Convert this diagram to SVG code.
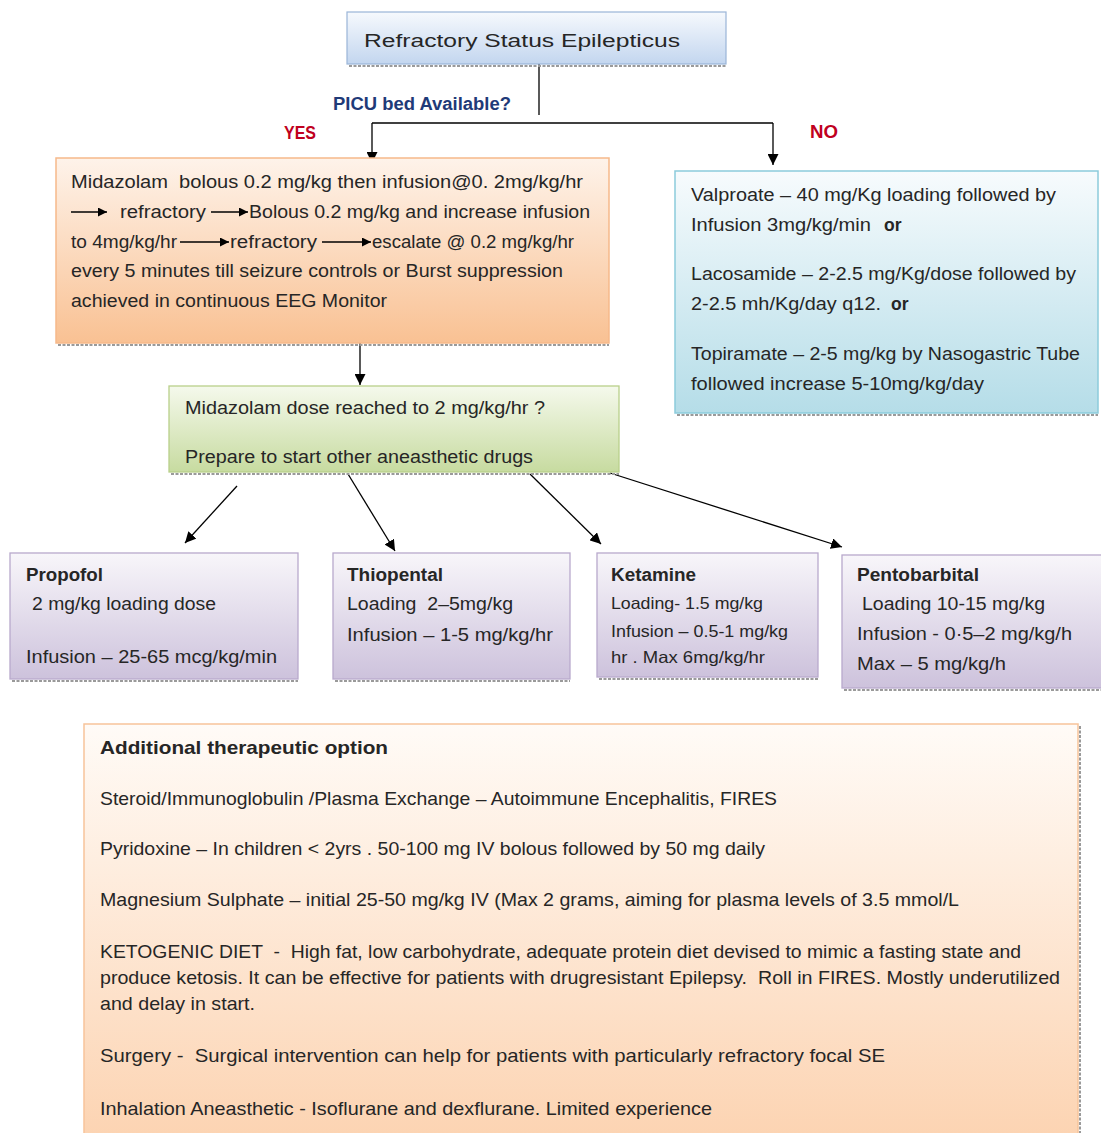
<svg xmlns="http://www.w3.org/2000/svg" width="1101" height="1133" viewBox="0 0 1101 1133">
<style>
text{font-family:"Liberation Sans",Arial,sans-serif;fill:#262626;font-size:17.5px;white-space:pre}
.b{font-weight:bold}
.bt{font-size:16.5px}
.big{font-size:18.5px}
.con{stroke:#000;stroke-width:1.3;fill:none}
.sh{stroke:#9a9a9a;stroke-width:2;stroke-dasharray:3 1.5;fill:none}
</style>
<defs>
<linearGradient id="gBlue" x1="0" y1="0" x2="0" y2="1"><stop offset="0" stop-color="#f6f9fd"/><stop offset="1" stop-color="#c3d6ef"/></linearGradient>
<linearGradient id="gOr" x1="0" y1="0" x2="0" y2="1"><stop offset="0" stop-color="#fef3ea"/><stop offset="1" stop-color="#f9c193"/></linearGradient>
<linearGradient id="gGr" x1="0" y1="0" x2="0" y2="1"><stop offset="0" stop-color="#f5f9ec"/><stop offset="1" stop-color="#c7dba0"/></linearGradient>
<linearGradient id="gCy" x1="0" y1="0" x2="0" y2="1"><stop offset="0" stop-color="#f7fbfd"/><stop offset="1" stop-color="#b5dde8"/></linearGradient>
<linearGradient id="gPu" x1="0" y1="0" x2="0" y2="1"><stop offset="0" stop-color="#f8f6fa"/><stop offset="1" stop-color="#cdc2dc"/></linearGradient>
<linearGradient id="gBig" x1="0" y1="0" x2="0" y2="1"><stop offset="0" stop-color="#fffbf7"/><stop offset="1" stop-color="#fcd3b1"/></linearGradient>
<marker id="ah" viewBox="0 0 10 10" refX="10" refY="5" markerWidth="11" markerHeight="11" markerUnits="userSpaceOnUse" orient="auto"><path d="M0,0 L10,5 L0,10 z" fill="#000"/></marker>
<marker id="ahs" viewBox="0 0 10 10" refX="10" refY="5" markerWidth="9" markerHeight="9" markerUnits="userSpaceOnUse" orient="auto"><path d="M0,0 L10,5 L0,10 z" fill="#000"/></marker>
<clipPath id="cGr"><rect x="169" y="386" width="450" height="82"/></clipPath>
</defs>

<g id="connectors">
<path class="con" d="M539 64 V115"/>
<path class="con" d="M372 123 H773"/>
<path class="con" d="M372 123 V163" marker-end="url(#ah)"/>
<path class="con" d="M773 123 V165" marker-end="url(#ah)"/>
<path class="con" d="M360 343 V385" marker-end="url(#ah)"/>
<path class="con" d="M237 486 L185 543" marker-end="url(#ah)"/>
<path class="con" d="M348 474 L395 551" marker-end="url(#ah)"/>
<path class="con" d="M530 474 L601 544" marker-end="url(#ah)"/>
<path class="con" d="M610 473 L842 547" marker-end="url(#ah)"/>
</g>

<g id="labels">
<text class="b" x="333" y="110" style="fill:#1f3a78" font-size="17" textLength="178" lengthAdjust="spacingAndGlyphs">PICU bed Available?</text>
<text class="b" x="284" y="139" style="fill:#c00020" font-size="17" textLength="32" lengthAdjust="spacingAndGlyphs">YES</text>
<text class="b" x="810" y="138" style="fill:#c00020" font-size="17" textLength="28" lengthAdjust="spacingAndGlyphs">NO</text>
</g>

<g id="node-title">
<rect x="347" y="12" width="379" height="52" fill="url(#gBlue)" stroke="#9ab5d8" stroke-width="1.2"/>
<path class="sh" d="M349 66 H726"/>
<text x="364" y="47" font-size="24" textLength="316" lengthAdjust="spacingAndGlyphs">Refractory Status Epilepticus</text>
</g>

<g id="node-midazolam">
<rect x="56" y="158" width="553" height="185" fill="url(#gOr)" stroke="#f6b98a" stroke-width="1.5"/>
<path class="sh" d="M58 345 H609"/>
<text x="71" y="188" textLength="512" lengthAdjust="spacingAndGlyphs">Midazolam  bolous 0.2 mg/kg then infusion@0. 2mg/kg/hr</text>
<path class="con" d="M71 212 H107" marker-end="url(#ahs)"/>
<text x="120" y="218" textLength="86" lengthAdjust="spacingAndGlyphs">refractory</text>
<path class="con" d="M211 212 H248" marker-end="url(#ahs)"/>
<text x="249" y="218" textLength="341" lengthAdjust="spacingAndGlyphs">Bolous 0.2 mg/kg and increase infusion</text>
<text x="71" y="248" textLength="106" lengthAdjust="spacingAndGlyphs">to 4mg/kg/hr</text>
<path class="con" d="M180 242 H229" marker-end="url(#ahs)"/>
<text x="230" y="248" textLength="87" lengthAdjust="spacingAndGlyphs">refractory</text>
<path class="con" d="M322 242 H371" marker-end="url(#ahs)"/>
<text x="372" y="248" textLength="202" lengthAdjust="spacingAndGlyphs">escalate @ 0.2 mg/kg/hr</text>
<text x="71" y="277" textLength="492" lengthAdjust="spacingAndGlyphs">every 5 minutes till seizure controls or Burst suppression</text>
<text x="71" y="307" textLength="316" lengthAdjust="spacingAndGlyphs">achieved in continuous EEG Monitor</text>
</g>

<g id="node-alternatives">
<rect x="675" y="171" width="423" height="242" fill="url(#gCy)" stroke="#8ccbdb" stroke-width="1.5"/>
<path class="sh" d="M677 415 H1098"/>
<text x="691" y="201" textLength="365" lengthAdjust="spacingAndGlyphs">Valproate – 40 mg/Kg loading followed by</text>
<text x="691" y="231"><tspan textLength="180" lengthAdjust="spacingAndGlyphs">Infusion 3mg/kg/min</tspan><tspan class="b" x="884">or</tspan></text>
<text x="691" y="280" textLength="385" lengthAdjust="spacingAndGlyphs">Lacosamide – 2-2.5 mg/Kg/dose followed by</text>
<text x="691" y="310"><tspan textLength="190" lengthAdjust="spacingAndGlyphs">2-2.5 mh/Kg/day q12.</tspan><tspan class="b" x="891">or</tspan></text>
<text x="691" y="360" textLength="389" lengthAdjust="spacingAndGlyphs">Topiramate – 2-5 mg/kg by Nasogastric Tube</text>
<text x="691" y="390" textLength="293" lengthAdjust="spacingAndGlyphs">followed increase 5-10mg/kg/day</text>
</g>

<g id="node-midazolam-max">
<rect x="169" y="386" width="450" height="86" fill="url(#gGr)" stroke="#b9d08a" stroke-width="1.3"/>
<path class="sh" d="M171 474 H619"/>
<text x="185" y="414" textLength="360" lengthAdjust="spacingAndGlyphs">Midazolam dose reached to 2 mg/kg/hr ?</text>
<text x="185" y="463" clip-path="url(#cGr)" textLength="348" lengthAdjust="spacingAndGlyphs">Prepare to start other aneasthetic drugs</text>
</g>

<g id="node-propofol">
<rect x="10" y="553" width="288" height="126" fill="url(#gPu)" stroke="#b8a9cc" stroke-width="1.3"/>
<path class="sh" d="M12 681 H298"/>
<text class="b" x="26" y="581" textLength="77" lengthAdjust="spacingAndGlyphs">Propofol</text>
<text x="32" y="610" textLength="184" lengthAdjust="spacingAndGlyphs">2 mg/kg loading dose</text>
<text x="26" y="663" textLength="251" lengthAdjust="spacingAndGlyphs">Infusion – 25-65 mcg/kg/min</text>
</g>

<g id="node-thiopental">
<rect x="333" y="553" width="237" height="126" fill="url(#gPu)" stroke="#b8a9cc" stroke-width="1.3"/>
<path class="sh" d="M335 681 H570"/>
<text class="b" x="347" y="581" textLength="96" lengthAdjust="spacingAndGlyphs">Thiopental</text>
<text x="347" y="610" textLength="166" lengthAdjust="spacingAndGlyphs">Loading  2–5mg/kg</text>
<text x="347" y="641" textLength="206" lengthAdjust="spacingAndGlyphs">Infusion – 1-5 mg/kg/hr</text>
</g>

<g id="node-ketamine">
<rect x="597" y="553" width="221" height="124" fill="url(#gPu)" stroke="#b8a9cc" stroke-width="1.3"/>
<path class="sh" d="M599 679 H818"/>
<text class="b" x="611" y="581" textLength="85" lengthAdjust="spacingAndGlyphs">Ketamine</text>
<text class="bt" x="611" y="609" textLength="152" lengthAdjust="spacingAndGlyphs">Loading- 1.5 mg/kg</text>
<text class="bt" x="611" y="637" textLength="177" lengthAdjust="spacingAndGlyphs">Infusion – 0.5-1 mg/kg</text>
<text class="bt" x="611" y="663" textLength="154" lengthAdjust="spacingAndGlyphs">hr . Max 6mg/kg/hr</text>
</g>

<g id="node-pentobarbital">
<rect x="842" y="555" width="262" height="133" fill="url(#gPu)" stroke="#b8a9cc" stroke-width="1.3"/>
<path class="sh" d="M844 690 H1101"/>
<text class="b" x="857" y="581" textLength="122" lengthAdjust="spacingAndGlyphs">Pentobarbital</text>
<text x="862" y="610" textLength="183" lengthAdjust="spacingAndGlyphs">Loading 10-15 mg/kg</text>
<text x="857" y="640" textLength="215" lengthAdjust="spacingAndGlyphs">Infusion - 0·5–2 mg/kg/h</text>
<text x="857" y="670" textLength="149" lengthAdjust="spacingAndGlyphs">Max – 5 mg/kg/h</text>
</g>

<g id="node-additional">
<rect x="84" y="724" width="994" height="420" fill="url(#gBig)" stroke="#f7c49a" stroke-width="1.5"/>
<path class="sh" d="M1080 726 V1133"/>
<text class="b big" x="100" y="754" textLength="288" lengthAdjust="spacingAndGlyphs">Additional therapeutic option</text>
<text class="big" x="100" y="805" textLength="677" lengthAdjust="spacingAndGlyphs">Steroid/Immunoglobulin /Plasma Exchange – Autoimmune Encephalitis, FIRES</text>
<text class="big" x="100" y="855" textLength="665" lengthAdjust="spacingAndGlyphs">Pyridoxine – In children &lt; 2yrs . 50-100 mg IV bolous followed by 50 mg daily</text>
<text class="big" x="100" y="906" textLength="859" lengthAdjust="spacingAndGlyphs">Magnesium Sulphate – initial 25-50 mg/kg IV (Max 2 grams, aiming for plasma levels of 3.5 mmol/L</text>
<text class="big" x="100" y="958" textLength="921" lengthAdjust="spacingAndGlyphs">KETOGENIC DIET  -  High fat, low carbohydrate, adequate protein diet devised to mimic a fasting state and</text>
<text class="big" x="100" y="984" textLength="960" lengthAdjust="spacingAndGlyphs">produce ketosis. It can be effective for patients with drugresistant Epilepsy.  Roll in FIRES. Mostly underutilized</text>
<text class="big" x="100" y="1010" textLength="155" lengthAdjust="spacingAndGlyphs">and delay in start.</text>
<text class="big" x="100" y="1062" textLength="785" lengthAdjust="spacingAndGlyphs">Surgery -  Surgical intervention can help for patients with particularly refractory focal SE</text>
<text class="big" x="100" y="1115" textLength="612" lengthAdjust="spacingAndGlyphs">Inhalation Aneasthetic - Isoflurane and dexflurane. Limited experience</text>
</g>
</svg>
